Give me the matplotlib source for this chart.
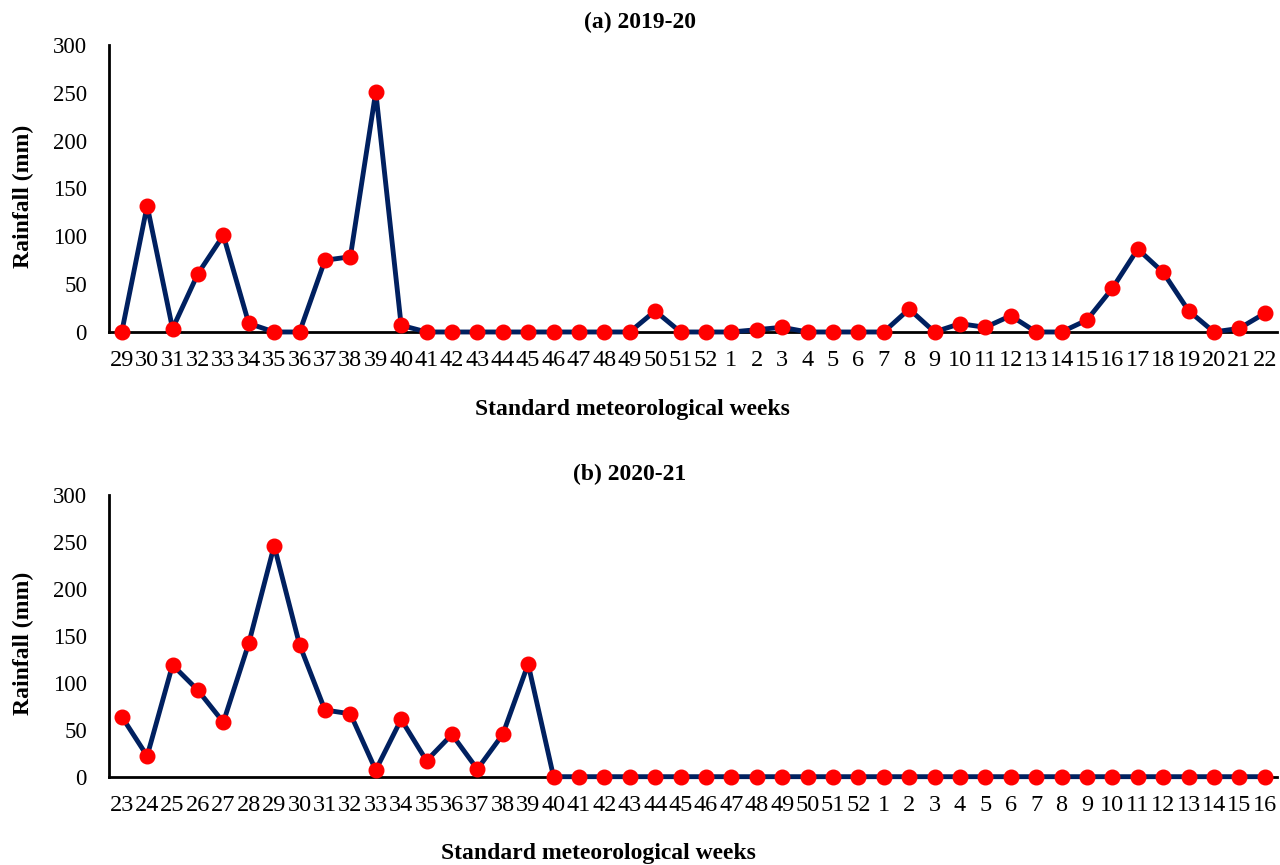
import matplotlib.pyplot as plt

plt.rcParams['font.family'] = ['Liberation Serif', 'DejaVu Serif']

# Данные: неделя и осадки (мм)
weeks_a = [29, 30, 31, 32, 33, 34, 35, 36, 37, 38, 39, 40, 41, 42, 43, 44, 45, 46,
           47, 48, 49, 50, 51, 52, 1, 2, 3, 4, 5, 6, 7, 8, 9, 10, 11, 12, 13, 14,
           15, 16, 17, 18, 19, 20, 21, 22]
rain_a = [0, 132, 3.5, 61, 101, 9, 0, 0, 75, 78.6, 251, 7, 0, 0, 0, 0, 0, 0,
          0, 0, 0, 22, 0, 0, 0, 2.4, 4.9, 0, 0, 0, 0, 24, 0, 8.7, 4.9, 17, 0, 0,
          12.5, 45.6, 86.7, 62.3, 22.3, 0, 3.8, 19.5]

weeks_b = [23, 24, 25, 26, 27, 28, 29, 30, 31, 32, 33, 34, 35, 36, 37, 38, 39, 40,
           41, 42, 43, 44, 45, 46, 47, 48, 49, 50, 51, 52, 1, 2, 3, 4, 5, 6, 7, 8,
           9, 10, 11, 12, 13, 14, 15, 16]
rain_b = [64, 22, 119, 92, 58, 142, 246, 140.6, 71, 67, 7, 61, 17, 45, 8, 45, 120, 0,
          0, 0, 0, 0, 0, 0, 0, 0, 0, 0, 0, 0, 0, 0, 0, 0, 0, 0, 0, 0,
          0, 0, 0, 0, 0, 0, 0, 0]

fig = plt.figure(figsize=(12.8, 8.65), dpi=100)

panels = [
    (weeks_a, rain_a, [0.0852, 0.6162, 0.9128, 0.3318]),
    (weeks_b, rain_b, [0.0852, 0.1021, 0.9128, 0.3256]),
]

for weeks, rain, rect in panels:
    ax = fig.add_axes(rect)
    x = list(range(len(weeks)))
    ax.plot(x, rain, color='#002060', linewidth=3.5, marker='o', markersize=10.5,
            markerfacecolor='#ff0000', markeredgecolor='#ff0000', clip_on=False, zorder=3)
    ax.set_xlim(-0.5, len(weeks) - 0.5)
    ax.set_ylim(0, 300)
    ax.set_yticks([0, 50, 100, 150, 200, 250, 300])
    ax.set_xticks(x)
    ax.set_xticklabels([str(w) for w in weeks])
    ax.tick_params(axis='both', length=0)
    ax.tick_params(axis='y', pad=16, labelsize=16.5)
    ax.tick_params(axis='x', pad=13, labelsize=17.5)
    for s in ['top', 'right']:
        ax.spines[s].set_visible(False)
    for s in ['left', 'bottom']:
        ax.spines[s].set_linewidth(2)
        ax.spines[s].set_color('black')
    ax.spines['bottom'].set_zorder(2)

# Подписи
lbl = dict(fontsize=17, fontweight='bold', ha='center', va='center')
fig.text(23 / 1280, 1 - 196 / 865, 'Rainfall (mm)', rotation=90, **lbl)
fig.text(23 / 1280, 1 - 643 / 865, 'Rainfall (mm)', rotation=90, **lbl)
fig.text(639.5 / 1280, 1 - 22 / 865, '(a) 2019-20', **lbl)
fig.text(630 / 1280, 1 - 474 / 865, '(b) 2020-21', **lbl)
fig.text(632 / 1280, 1 - 409 / 865, 'Standard meteorological weeks', **lbl)
fig.text(598 / 1280, 1 - 854 / 865, 'Standard meteorological weeks', **lbl)

plt.savefig('out.png', dpi=100)
